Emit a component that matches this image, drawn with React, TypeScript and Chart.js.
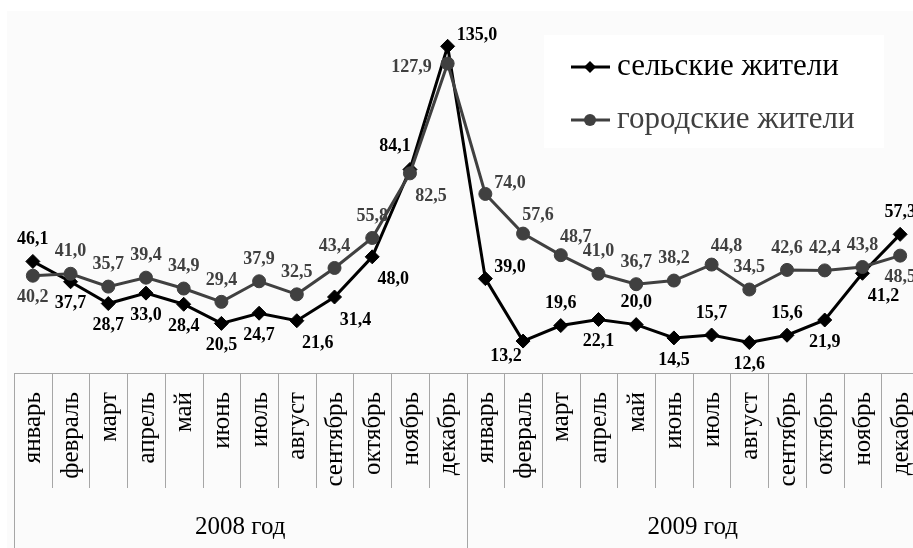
import React, { useEffect, useRef } from "react";
import { Chart, registerables } from "chart.js";

Chart.register(...registerables);

const months = ["январь", "февраль", "март", "апрель", "май", "июнь", "июль", "август", "сентябрь", "октябрь", "ноябрь", "декабрь"];
const years = ["2008 год", "2009 год"];
const categories = [...months, ...months];

const ruralName = "сельские жители";
const urbanName = "городские жители";

const ruralValues = [46.1, 37.7, 28.7, 33.0, 28.4, 20.5, 24.7, 21.6, 31.4, 48.0, 84.1, 135.0, 39.0, 13.2, 19.6, 22.1, 20.0, 14.5, 15.7, 12.6, 15.6, 21.9, 41.2, 57.3];
const urbanValues = [40.2, 41.0, 35.7, 39.4, 34.9, 29.4, 37.9, 32.5, 43.4, 55.8, 82.5, 127.9, 74.0, 57.6, 48.7, 41.0, 36.7, 38.2, 44.8, 34.5, 42.6, 42.4, 43.8, 48.5];

const ruralLabelPos = ["above", "below", "below", "below", "below", "below", "below", "belowRight", "belowRight", "belowRight", "aboveLeft", "right",
  "right", "belowLeft", "above", "below", "above", "below", "above", "below", "above", "below", "belowRight", "above"];
const urbanLabelPos = ["below", "above", "above", "above", "above", "above", "above", "above", "above", "above", "belowRight", "left",
  "right", "aboveRight", "aboveRight", "above", "above", "above", "aboveRight", "above", "above", "above", "above", "below"];

const Y_MAX = 150;
const RURAL_COLOR = "#000000";
const URBAN_COLOR = "#404040";
const SERIF = '"Liberation Serif", "Times New Roman", serif';
const CANVAS_W = 930;
const CANVAS_H = 548;

const fmt = (v: number) => v.toFixed(1).replace(".", ",");

const bgPlugin = {
  id: "bgPlugin",
  beforeDraw(chart: any) {
    const ctx = chart.ctx;
    ctx.save();
    ctx.fillStyle = "#ffffff";
    ctx.fillRect(0, 0, chart.width, chart.height);
    ctx.fillStyle = "#fbfbfb";
    ctx.fillRect(7, 11, chart.width - 7, chart.height - 11);
    ctx.restore();
  },
};

const axisPlugin = {
  id: "axisPlugin",
  beforeDatasetsDraw(chart: any) {
    const ctx = chart.ctx;
    const xs = chart.scales.x;
    const area = chart.chartArea;
    const n = categories.length;
    const step = (xs.getPixelForValue(1) - xs.getPixelForValue(0));
    ctx.save();
    ctx.strokeStyle = "#a6a6a6";
    ctx.lineWidth = 1;
    ctx.beginPath();
    ctx.moveTo(area.left, Math.round(area.bottom) + 0.5);
    ctx.lineTo(chart.width, Math.round(area.bottom) + 0.5);
    ctx.stroke();
    for (let i = 0; i <= n; i++) {
      const x = Math.round(xs.getPixelForValue(0) - step / 2 + i * step) + 0.5;
      const isGroup = i % 12 === 0;
      ctx.beginPath();
      ctx.moveTo(x, area.bottom);
      ctx.lineTo(x, isGroup ? chart.height : area.bottom + 115);
      ctx.stroke();
    }
    ctx.fillStyle = "#000000";
    ctx.font = `25px ${SERIF}`;
    ctx.textAlign = "right";
    ctx.textBaseline = "middle";
    for (let i = 0; i < n; i++) {
      const x = xs.getPixelForValue(i);
      ctx.save();
      ctx.translate(x + 1, area.bottom + 19);
      ctx.rotate(-Math.PI / 2);
      ctx.fillText(categories[i], 0, 0);
      ctx.restore();
    }
    ctx.font = `25px ${SERIF}`;
    ctx.textAlign = "center";
    for (let g = 0; g < years.length; g++) {
      const x0 = xs.getPixelForValue(g * 12) - step / 2;
      const x1 = xs.getPixelForValue(g * 12 + 11) + step / 2;
      ctx.fillText(years[g], (x0 + x1) / 2, area.bottom + 154);
    }
    ctx.restore();
  },
};

const labelOffsets: Record<string, { dx: number; dy: number; align: CanvasTextAlign }> = {
  above: { dx: 0, dy: -22, align: "center" },
  below: { dx: 0, dy: 22, align: "center" },
  right: { dx: 9, dy: -11, align: "left" },
  left: { dx: -16, dy: 4, align: "right" },
  aboveRight: { dx: 15, dy: -18, align: "center" },
  aboveLeft: { dx: -15, dy: -23, align: "center" },
  belowRight: { dx: 21, dy: 23, align: "center" },
  belowLeft: { dx: -17, dy: 15, align: "center" },
};

const labelsPlugin = {
  id: "labelsPlugin",
  afterDatasetsDraw(chart: any) {
    const ctx = chart.ctx;
    const sets = [
      { idx: 0, values: ruralValues, pos: ruralLabelPos, color: RURAL_COLOR },
      { idx: 1, values: urbanValues, pos: urbanLabelPos, color: URBAN_COLOR },
    ];
    ctx.save();
    ctx.font = `bold 18px ${SERIF}`;
    ctx.textBaseline = "middle";
    for (const s of sets) {
      const meta = chart.getDatasetMeta(s.idx);
      ctx.fillStyle = s.color;
      meta.data.forEach((pt: any, i: number) => {
        const o = labelOffsets[s.pos[i]] || labelOffsets.above;
        ctx.textAlign = o.align;
        ctx.fillText(fmt(s.values[i]), pt.x + o.dx, pt.y + o.dy);
      });
    }
    ctx.restore();
  },
};

const legendPlugin = {
  id: "legendPlugin",
  afterDraw(chart: any) {
    const ctx = chart.ctx;
    ctx.save();
    ctx.fillStyle = "#ffffff";
    ctx.fillRect(544, 35, 340, 113);
    const rows = [
      { name: ruralName, color: RURAL_COLOR, style: "diamond", y: 67 },
      { name: urbanName, color: URBAN_COLOR, style: "circle", y: 120 },
    ];
    for (const r of rows) {
      ctx.strokeStyle = r.color;
      ctx.fillStyle = r.color;
      ctx.lineWidth = 3;
      ctx.beginPath();
      ctx.moveTo(571, r.y);
      ctx.lineTo(610, r.y);
      ctx.stroke();
      ctx.beginPath();
      if (r.style === "diamond") {
        ctx.moveTo(590, r.y - 6);
        ctx.lineTo(596, r.y);
        ctx.lineTo(590, r.y + 6);
        ctx.lineTo(584, r.y);
        ctx.closePath();
      } else {
        ctx.arc(590, r.y, 6, 0, Math.PI * 2);
      }
      ctx.fill();
      ctx.font = `31px ${SERIF}`;
      ctx.textAlign = "left";
      ctx.textBaseline = "middle";
      ctx.fillText(r.name, 617, r.y);
    }
    ctx.restore();
  },
};

export default function App() {
  const ref = useRef<HTMLCanvasElement | null>(null);
  useEffect(() => {
    if (!ref.current) return;
    const chart = new Chart(ref.current, {
      type: "line",
      data: {
        labels: categories,
        datasets: [
          {
            label: ruralName,
            data: ruralValues,
            borderColor: RURAL_COLOR,
            backgroundColor: RURAL_COLOR,
            borderWidth: 3,
            pointStyle: "rectRot",
            pointRadius: 7,
            pointBackgroundColor: RURAL_COLOR,
            pointBorderColor: RURAL_COLOR,
            pointBorderWidth: 1,
            tension: 0,
            order: 1,
            clip: false as any,
          },
          {
            label: urbanName,
            data: urbanValues,
            borderColor: URBAN_COLOR,
            backgroundColor: URBAN_COLOR,
            borderWidth: 3,
            pointStyle: "circle",
            pointRadius: 6.5,
            pointBackgroundColor: URBAN_COLOR,
            pointBorderColor: URBAN_COLOR,
            pointBorderWidth: 1,
            tension: 0,
            order: 0,
            clip: false as any,
          },
        ],
      },
      options: {
        responsive: false,
        animation: false,
        devicePixelRatio: 1,
        layout: { padding: { left: 14, right: CANVAS_W - 919, top: 10, bottom: CANVAS_H - 373 } },
        scales: {
          x: { type: "category", display: false, offset: true },
          y: { display: false, min: 0, max: Y_MAX },
        },
        plugins: { legend: { display: false }, tooltip: { enabled: false } },
      },
      plugins: [bgPlugin, axisPlugin, labelsPlugin, legendPlugin],
    });
    return () => chart.destroy();
  }, []);
  return (
    <div style={{ position: "fixed", left: 0, top: 0, width: 913, height: 548, overflow: "hidden", background: "#ffffff" }}>
      <canvas ref={ref} width={CANVAS_W} height={CANVAS_H} style={{ display: "block" }} />
    </div>
  );
}
